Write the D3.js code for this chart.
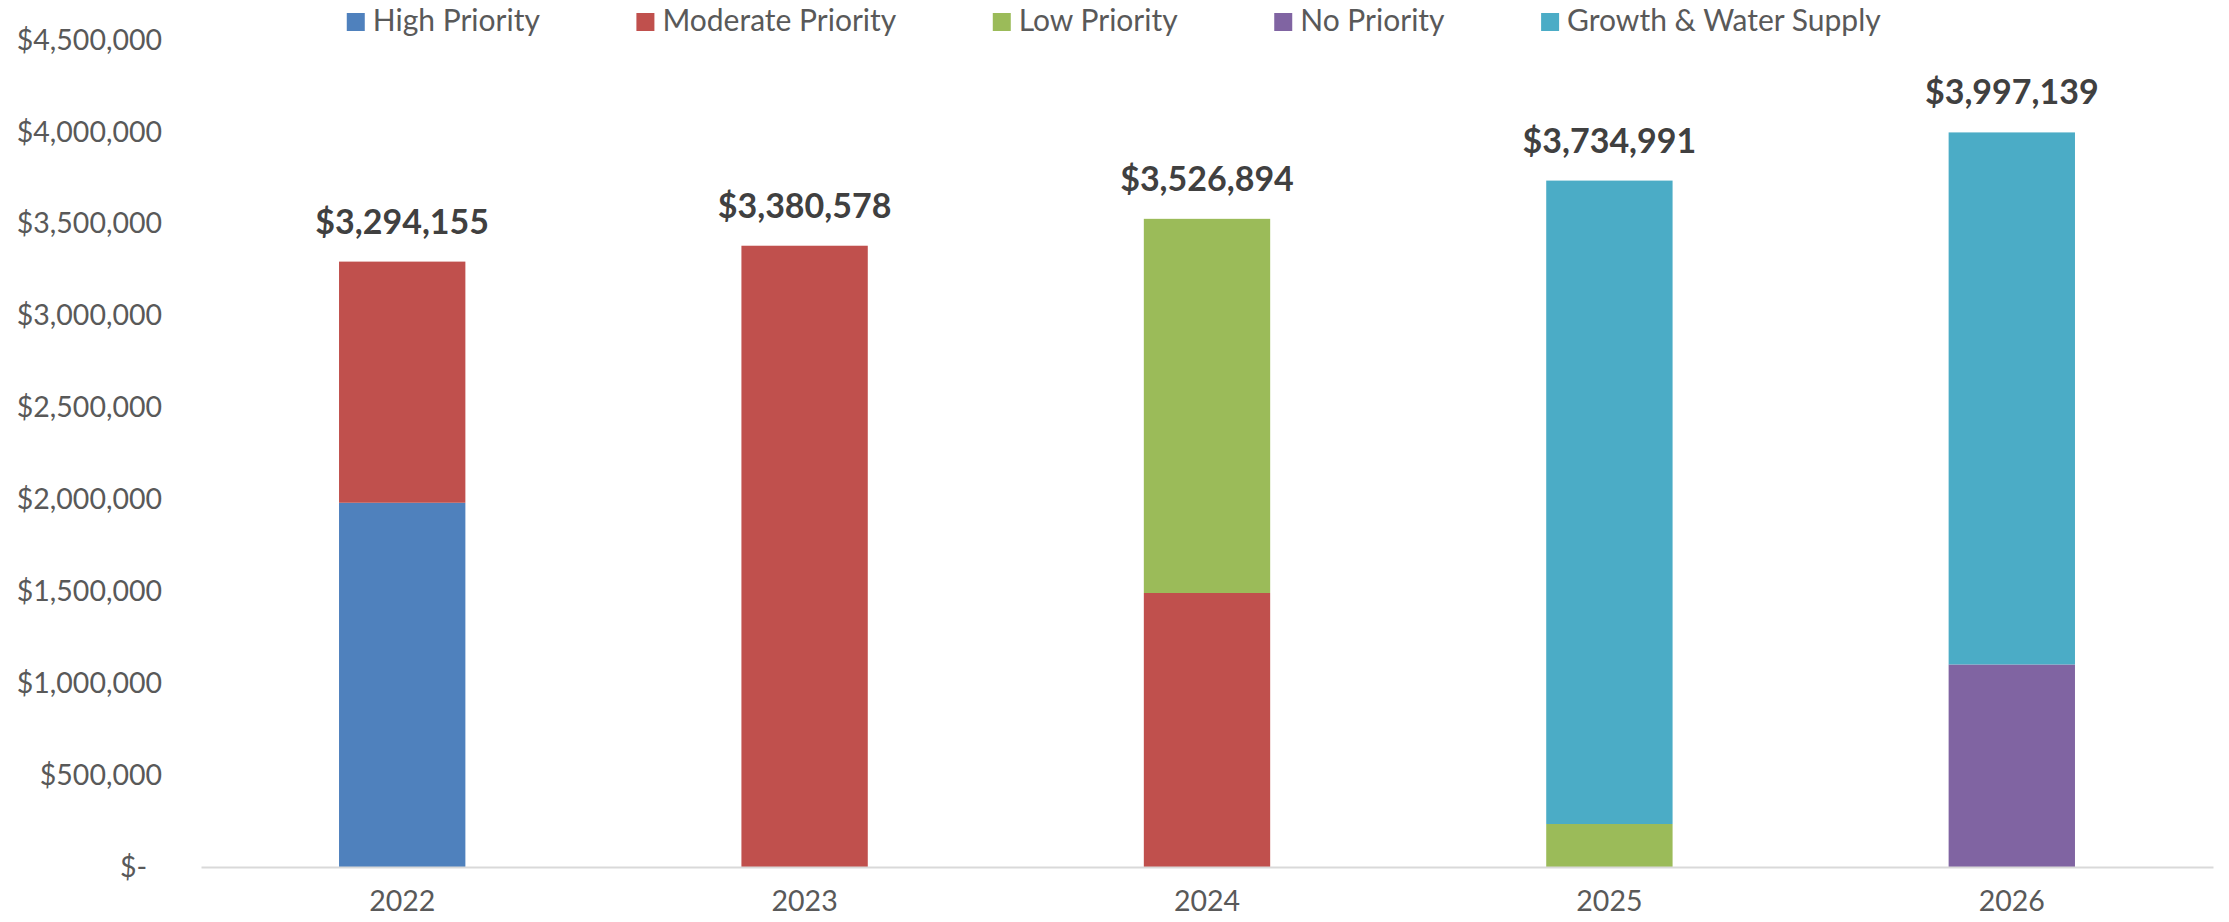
<!DOCTYPE html>
<html>
<head>
<meta charset="utf-8">
<script src="https://cdn.jsdelivr.net/npm/d3@7"></script>
<style>
  body { margin: 0; background: #fff; }
  svg text { font-family: Lato, "Open Sans", sans-serif; }
</style>
</head>
<body>
<svg id="chart" width="2229" height="922"></svg>
<script>
// values
var years = ["2022", "2023", "2024", "2025", "2026"];
var highPriority     = [1982000, 0, 0, 0, 0];
var moderatePriority = [1312155, 3380578, 1491000, 0, 0];
var lowPriority      = [0, 0, 2035894, 234000, 0];
var noPriority       = [0, 0, 0, 0, 1102000];
var growthWater      = [0, 0, 0, 3500991, 2895139];
var seriesNames = ["High Priority", "Moderate Priority", "Low Priority", "No Priority", "Growth & Water Supply"];
var seriesKeys  = ["high", "moderate", "low", "none", "growth"];
var colors      = ["#4F81BD", "#C0504D", "#9BBB59", "#8064A2", "#4BACC6"];
var yTicks = [0, 500000, 1000000, 1500000, 2000000, 2500000, 3000000, 3500000, 4000000, 4500000];

var rows = years.map(function (y, i) {
    return { year: y, high: highPriority[i], moderate: moderatePriority[i],
             low: lowPriority[i], none: noPriority[i], growth: growthWater[i] };
});

var svg = d3.select("#chart");
var plotLeft = 201, plotRight = 2213, plotTop = 40, plotBottom = 867;

var x = d3.scaleBand()
    .domain(years)
    .range([plotLeft, plotRight])
    .paddingInner(0.686)
    .paddingOuter(0.343);

var y = d3.scaleLinear()
    .domain([0, 4500000])
    .range([plotBottom, plotTop]);

var color = d3.scaleOrdinal().domain(seriesKeys).range(colors);

// y axis labels (no line, no ticks)
var money = d3.format("$,");
var yAxis = svg.append("g")
    .attr("transform", "translate(162,0)")
    .call(d3.axisLeft(y).tickValues(yTicks).tickSize(0).tickPadding(0)
        .tickFormat(function (d) { return d === 0 ? "$-" : money(d); }));
yAxis.select(".domain").remove();
yAxis.selectAll("text")
    .attr("fill", "#595959")
    .style("font-size", "28.5px")
    .attr("dx", function (d) { return d === 0 ? -15 : 0; });

// bars
var stacked = d3.stack().keys(seriesKeys)(rows);
svg.append("g").selectAll("g")
    .data(stacked)
    .enter().append("g")
    .attr("fill", function (d) { return color(d.key); })
    .selectAll("rect")
    .data(function (d) { return d; })
    .enter().append("rect")
    .attr("x", function (d) { return x(d.data.year); })
    .attr("width", x.bandwidth())
    .attr("y", function (d) { return y(d[1]); })
    .attr("height", function (d) { return y(d[0]) - y(d[1]); });

// x axis
var xAxis = svg.append("g")
    .attr("transform", "translate(0," + plotBottom + ")")
    .call(d3.axisBottom(x).tickSize(0).tickPadding(24));
xAxis.select(".domain")
    .attr("stroke", "#D9D9D9")
    .attr("stroke-width", 2);
xAxis.selectAll("text")
    .attr("fill", "#595959")
    .style("font-size", "28.5px");

// totals above bars
function total(d) {
    return seriesKeys.reduce(function (s, k) { return s + d[k]; }, 0);
}
svg.append("g").selectAll("text")
    .data(rows)
    .enter().append("text")
    .attr("x", function (d) { return x(d.year) + x.bandwidth() / 2; })
    .attr("y", function (d) { return y(total(d)) - 28; })
    .attr("text-anchor", "middle")
    .attr("fill", "#404040")
    .style("font-size", "34px")
    .style("font-weight", "bold")
    .text(function (d) { return money(total(d)); });

// legend, centred across the top
var legend = svg.append("g").attr("transform", "translate(0,31)");
var items = legend.selectAll("g")
    .data(seriesNames)
    .enter().append("g");
items.append("rect")
    .attr("y", -18)
    .attr("width", 18)
    .attr("height", 18)
    .attr("fill", function (d, i) { return colors[i]; });
items.append("text")
    .attr("x", 26)
    .attr("fill", "#595959")
    .style("font-size", "30px")
    .text(function (d) { return d; });

var gap = 96, widths = [];
items.each(function () { widths.push(this.getBBox().width); });
var totalW = d3.sum(widths) + gap * (widths.length - 1);
var pos = 1114 - totalW / 2;
items.attr("transform", function (d, i) {
    var p = pos;
    pos += widths[i] + gap;
    return "translate(" + p + ",0)";
});
</script>
</body>
</html>
